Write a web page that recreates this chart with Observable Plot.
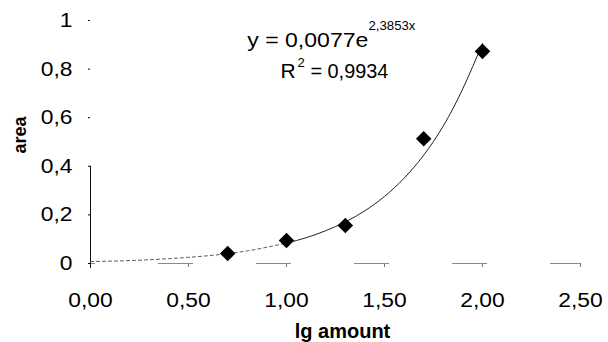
<!DOCTYPE html>
<html>
<head>
<meta charset="utf-8">
<script src="https://cdn.jsdelivr.net/npm/d3@7"></script>
<script src="https://cdn.jsdelivr.net/npm/@observablehq/plot@0.6"></script>
<style>
  html, body { margin: 0; padding: 0; background: #fff; }
  #chart { width: 608px; height: 342px; }
</style>
</head>
<body>
<div id="chart"></div>
<script>
// ---- data ----
const lgAmount = [0.70, 1.00, 1.30, 1.70, 2.00];
const area = [0.041, 0.095, 0.156, 0.513, 0.873];

// exponential trend line
const trendX = [0, 0.2, 0.4, 0.6, 0.8, 1.0, 1.1, 1.2, 1.3, 1.4, 1.5, 1.6, 1.7, 1.8, 1.9, 2.0];
const trendY = [0.008, 0.012, 0.020, 0.032, 0.052, 0.084, 0.106, 0.135, 0.171, 0.217, 0.276, 0.351, 0.446, 0.566, 0.720, 0.905];

const xTicks = [0, 0.5, 1, 1.5, 2, 2.5];
const yTicks = [0, 0.2, 0.4, 0.6, 0.8, 1];

const equationMain = "y = 0,0077e";
const equationExp = "2,3853x";
const r2Letter = "R";
const r2Exp = "2";
const r2Value = "= 0,9934";
const xLabel = "lg amount";
const yLabel = "area";

// ---- build tables ----
const points = lgAmount.map((x, i) => ({x, y: area[i]}));
const trend = trendX.map((x, i) => ({x, y: trendY[i]}));
const trendLow = trend.filter(d => d.x <= 1.0);
const trendHigh = trend.filter(d => d.x >= 1.0);

const fmtX = d => d3.format(".2f")(d).replace(".", ",");
const fmtY = d => d3.format("~g")(d).replace(".", ",");

const font = "'Liberation Sans', Arial, Helvetica, sans-serif";

const chart = Plot.plot({
  width: 608,
  height: 342,
  marginLeft: 90,
  marginRight: 28,
  marginTop: 20,
  marginBottom: 79,
  style: {fontFamily: font, fontSize: "20px", color: "#000", background: "#fff", overflow: "visible"},
  x: {domain: [0, 2.5], ticks: xTicks, tickFormat: fmtX, label: null, tickSize: 4, tickPadding: 25},
  y: {domain: [0, 1], ticks: yTicks, tickFormat: fmtY, label: null, tickSize: 2, tickPadding: 16},
  marks: [
    // faded x axis line (scanned look)
    Plot.ruleY([0], {stroke: "#8a8a8a", strokeWidth: 1.2, strokeDasharray: "35,63", strokeDashoffset: 30}),
    // visible part of the y axis line
    Plot.ruleX([0], {y1: -0.02, y2: 0.40, stroke: "#111", strokeWidth: 1}),
    // trend line
    Plot.line(trendLow, {x: "x", y: "y", curve: "natural", stroke: "#555", strokeWidth: 1, strokeDasharray: "3,3"}),
    Plot.line(trendHigh, {x: "x", y: "y", curve: "natural", stroke: "#222", strokeWidth: 1}),
    // data points
    Plot.dot(points, {x: "x", y: "y", symbol: "diamond2", r: 7, fill: "#000", stroke: "none"}),
    // equation annotation
    Plot.text([equationMain], {x: 0.80, y: 0.889, text: d => d, textAnchor: "start", lineAnchor: "bottom", fontSize: 21, fill: "#000"}),
    Plot.text([equationExp], {x: 1.418, y: 0.959, text: d => d, textAnchor: "start", lineAnchor: "bottom", fontSize: 13, fill: "#000"}),
    Plot.text([r2Letter], {x: 0.969, y: 0.765, text: d => d, textAnchor: "start", lineAnchor: "bottom", fontSize: 21, fill: "#000"}),
    Plot.text([r2Exp], {x: 1.056, y: 0.807, text: d => d, textAnchor: "start", lineAnchor: "bottom", fontSize: 13, fill: "#000"}),
    Plot.text([r2Value], {x: 1.122, y: 0.765, text: d => d, textAnchor: "start", lineAnchor: "bottom", fontSize: 21, fill: "#000"}),
    // axis titles
    Plot.text([xLabel], {frameAnchor: "bottom", text: d => d, textAnchor: "middle", lineAnchor: "bottom", dx: 7, dy: 74, fontSize: 20, fontWeight: "bold", fill: "#000"}),
    Plot.text([yLabel], {frameAnchor: "left", text: d => d, rotate: -90, textAnchor: "middle", lineAnchor: "bottom", dx: -65, dy: -7, fontSize: 18, fontWeight: "bold", fill: "#000"})
  ]
});

document.getElementById("chart").appendChild(chart);

// styling touches: grey x ticks, slightly wider text like the original
const svg = d3.select(chart);
svg.selectAll('g[aria-label="x-axis tick"] path, g[aria-label="x-axis tick"] line').attr("stroke", "#777");
svg.selectAll('g[aria-label="x-axis tick label"] text, g[aria-label="y-axis tick label"] text').each(function () {
  const w = this.getComputedTextLength();
  if (w > 0) {
    this.setAttribute("textLength", (w * 1.14).toFixed(1));
    this.setAttribute("lengthAdjust", "spacingAndGlyphs");
  }
});
svg.selectAll("text").each(function () {
  const t = this.textContent;
  if (t === equationMain) {
    this.setAttribute("textLength", 121);
    this.setAttribute("lengthAdjust", "spacingAndGlyphs");
  } else if (t === r2Value) {
    this.setAttribute("textLength", 78);
    this.setAttribute("lengthAdjust", "spacingAndGlyphs");
  } else if (t === equationExp) {
    this.setAttribute("textLength", 47);
    this.setAttribute("lengthAdjust", "spacingAndGlyphs");
  }
});
</script>
</body>
</html>
